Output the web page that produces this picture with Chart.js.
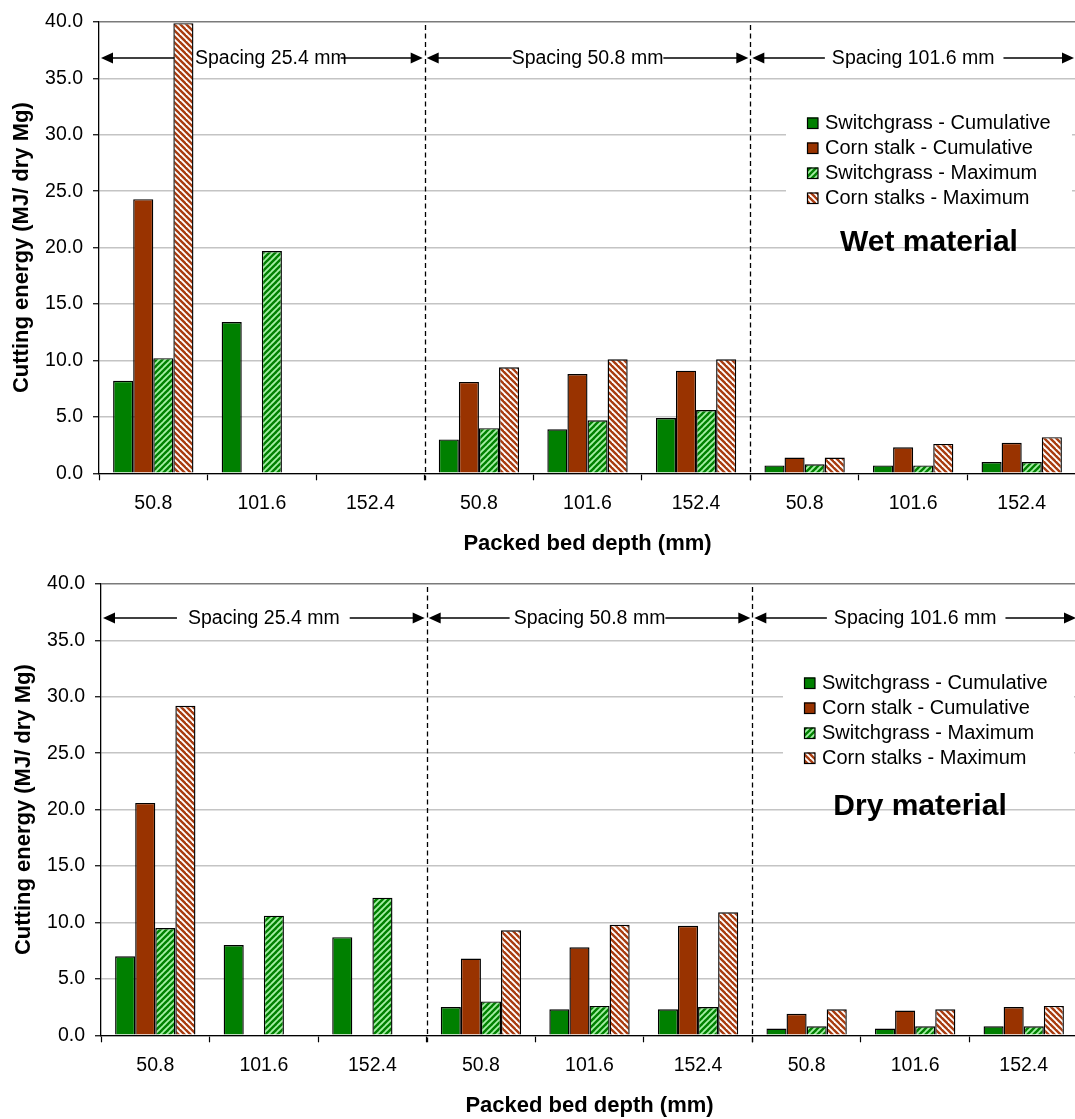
<!DOCTYPE html>
<html><head><meta charset="utf-8">
<script src="https://cdn.jsdelivr.net/npm/chart.js@4.4.1/dist/chart.umd.min.js"></script>
<style>
html,body{margin:0;padding:0;background:#fff;overflow:hidden;width:1075px;height:1119px;}
#wrap{position:relative;width:1075px;height:1119px;overflow:hidden;background:#fff;}
canvas{position:absolute;left:0;}
</style></head><body>
<div id="wrap">
<canvas id="wet" width="1076" height="562" style="top:0;width:1076px;height:562px"></canvas>
<canvas id="dry" width="1078" height="562" style="top:562px;width:1078px;height:562px"></canvas>
</div>
<script>
// ---------- data ----------
const categories = ['50.8','101.6','152.4','50.8','101.6','152.4','50.8','101.6','152.4'];
const spacingGroup = [0,0,0,1,1,1,2,2,2];
const spacingLabels = ['Spacing 25.4 mm','Spacing 50.8 mm','Spacing 101.6 mm'];
const seriesNames = ['Switchgrass - Cumulative','Corn stalk - Cumulative','Switchgrass - Maximum','Corn stalks - Maximum'];
const yTicks = [0,5,10,15,20,25,30,35,40];

const wetSwitchCum = [8.2, 13.4, null, 3.0, 3.9, 4.9, 0.7, 0.7, 1.0];
const wetCornCum   = [24.3, null, null, 8.1, 8.8, 9.1, 1.4, 2.3, 2.7];
const wetSwitchMax = [10.2, 19.7, null, 4.0, 4.7, 5.6, 0.8, 0.7, 1.0];
const wetCornMax   = [39.9, null, null, 9.4, 10.1, 10.1, 1.4, 2.6, 3.2];

const drySwitchCum = [7.0, 8.0, 8.7, 2.5, 2.3, 2.3, 0.6, 0.6, 0.8];
const dryCornCum   = [20.6, null, null, 6.8, 7.8, 9.7, 1.9, 2.2, 2.5];
const drySwitchMax = [9.5, 10.6, 12.2, 3.0, 2.6, 2.5, 0.8, 0.8, 0.8];
const dryCornMax   = [29.2, null, null, 9.3, 9.8, 10.9, 2.3, 2.3, 2.6];

const xTitle = 'Packed bed depth (mm)';
const yTitle = 'Cutting energy (MJ/ dry Mg)';

// ---------- styles ----------
const FONT = "'Liberation Sans', Arial, sans-serif";
Chart.defaults.font.family = FONT;
Chart.defaults.color = '#000';

function makeHatch(bg, fg, dir, size, lw){
  const c = document.createElement('canvas'); c.width = size; c.height = size;
  const x = c.getContext('2d');
  x.fillStyle = bg; x.fillRect(0,0,size,size);
  x.strokeStyle = fg; x.lineWidth = lw;
  for (let k = -size; k <= size; k += size){
    x.beginPath();
    if (dir === '/') { x.moveTo(k-1, size+1); x.lineTo(k+size+1, -1); }
    else { x.moveTo(k-1, -1); x.lineTo(k+size+1, size+1); }
    x.stroke();
  }
  return document.createElement('canvas').getContext('2d').createPattern(c, 'repeat');
}
const GREEN = '#008000', BROWN = '#993300';
const greenHatch = makeHatch('#a6f0a6', '#008000', '/', 6, 2.4);
const brownHatch = makeHatch('#ffffff', '#a83c10', '\\', 6, 2.4);
const fills = [GREEN, BROWN, greenHatch, brownHatch];

const overlay = {
  id: 'overlay',
  beforeDatasetsDraw(chart, args, o){
    const ctx = chart.ctx, ca = chart.chartArea, xs = chart.scales.x;
    const b = [ca.left];
    for (let i = 1; i < spacingGroup.length; i++){
      if (spacingGroup[i] !== spacingGroup[i-1]) b.push((xs.getPixelForValue(i-1) + xs.getPixelForValue(i))/2);
    }
    b.push(ca.right);
    ctx.save();
    ctx.strokeStyle = '#000'; ctx.lineWidth = 1.3; ctx.setLineDash([5,3.5]);
    for (let i = 1; i < b.length-1; i++){
      const x = Math.round(b[i]) + 0.5;
      ctx.beginPath(); ctx.moveTo(x, ca.top + 3); ctx.lineTo(x, ca.bottom + 7); ctx.stroke();
    }
    ctx.setLineDash([]);
    ctx.font = '19.5px ' + FONT; ctx.textBaseline = 'middle'; ctx.textAlign = 'left';
    ctx.fillStyle = '#000'; ctx.strokeStyle = '#000'; ctx.lineWidth = 1.7;
    const y = o.arrowY;
    for (let s = 0; s < spacingLabels.length; s++){
      const l = b[s] + 2, r = b[s+1] - 2;
      const tw = ctx.measureText(spacingLabels[s]).width;
      const cx = (l + r)/2 + (o.textShift[s] || 0);
      const tl = cx - tw/2, tr = cx + tw/2;
      const g = o.gaps[s];
      ctx.beginPath(); ctx.moveTo(l + 8, y); ctx.lineTo(tl - g[0], y); ctx.stroke();
      ctx.beginPath(); ctx.moveTo(tr + g[1], y); ctx.lineTo(r - 8, y); ctx.stroke();
      ctx.beginPath(); ctx.moveTo(l, y); ctx.lineTo(l + 12, y - 5.5); ctx.lineTo(l + 12, y + 5.5); ctx.closePath(); ctx.fill();
      ctx.beginPath(); ctx.moveTo(r, y); ctx.lineTo(r - 12, y - 5.5); ctx.lineTo(r - 12, y + 5.5); ctx.closePath(); ctx.fill();
      ctx.fillText(spacingLabels[s], tl, y + 1);
    }
    ctx.restore();
  },
  afterDatasetsDraw(chart, args, o){
    const ctx = chart.ctx;
    ctx.save();
    ctx.fillStyle = '#fff';
    ctx.fillRect(o.legBox[0], o.legBox[1], o.legBox[2], o.legBox[3]);
    ctx.font = '20px ' + FONT; ctx.textBaseline = 'middle'; ctx.textAlign = 'left';
    chart.data.datasets.forEach((ds, i) => {
      const yy = o.legY + i * 25;
      ctx.fillStyle = ds.backgroundColor;
      ctx.fillRect(o.legX, yy - 5.5, 11, 11);
      ctx.strokeStyle = '#000'; ctx.lineWidth = 1.2;
      ctx.strokeRect(o.legX + 0.5, yy - 5.5 + 0.5, 10.5, 10.5);
      ctx.fillStyle = '#000';
      ctx.fillText(ds.label, o.legX + 18, yy);
    });
    ctx.font = 'bold 30px ' + FONT; ctx.textAlign = 'center';
    ctx.fillText(o.material, o.matX, o.matY);
    ctx.restore();
  }
};

function build(id, data, opts){
  const datasets = data.map((arr, i) => ({
    label: seriesNames[i], data: arr, backgroundColor: fills[i],
    borderColor: '#000', borderWidth: 1.4, borderSkipped: 'bottom',
    categoryPercentage: 0.74, barPercentage: 1.0
  }));
  return new Chart(document.getElementById(id), {
    type: 'bar',
    data: { labels: categories, datasets },
    plugins: [overlay],
    options: {
      responsive: false, animation: false, devicePixelRatio: 1,
      layout: { padding: { left: opts.padLeft, top: 22, right: 0, bottom: 0 } },
      plugins: { legend: { display: false }, tooltip: { enabled: false }, overlay: opts.overlay },
      scales: {
        x: {
          grid: { drawOnChartArea: false, drawTicks: true, tickLength: 7, tickColor: '#000', tickWidth: 1.2, offset: true },
          border: { display: true, color: '#000', width: 1.3 },
          ticks: { font: { size: 19.5 }, color: '#000', padding: 12, maxRotation: 0, autoSkip: false },
          title: { display: true, text: xTitle, font: { size: 22, weight: 'bold' }, color: '#000', padding: { top: 0, bottom: 5 } },
          afterFit: s => { s.height = 88.7; }
        },
        y: {
          min: 0, max: 40,
          afterBuildTicks: s => { s.ticks = yTicks.map(v => ({ value: v })); },
          grid: { color: c => (c.tick && c.tick.value === 40) ? '#7a7a7a' : '#c4c4c4', lineWidth: 1.5,
                  drawTicks: true, tickLength: 6, tickColor: '#000', tickWidth: 1.2 },
          border: { display: true, color: '#000', width: 1.3 },
          ticks: { font: { size: 19.5 }, color: '#000', padding: 10, callback: v => Number(v).toFixed(1) },
          title: { display: true, text: yTitle, font: { size: 22, weight: 'bold' }, color: '#000', padding: { top: 9, bottom: 0 } },
          afterFit: s => { s.width = 99; }
        }
      }
    }
  });
}

build('wet', [wetSwitchCum, wetCornCum, wetSwitchMax, wetCornMax], {
  padLeft: 0,
  overlay: { arrowY: 58, textShift: [9, 0, 0], gaps: [[17, -6], [0, 0], [7, 9]],
             legBox: [786, 100, 286, 112], legX: 807, legY: 123,
             material: 'Wet material', matX: 929, matY: 243 }
});
build('dry', [drySwitchCum, dryCornCum, drySwitchMax, dryCornMax], {
  padLeft: 2,
  overlay: { arrowY: 56, textShift: [0, 0, 0], gaps: [[11, 10], [4, 0], [7, 9]],
             legBox: [783, 100, 291, 112], legX: 804, legY: 121,
             material: 'Dry material', matX: 920, matY: 245 }
});
</script>
</body></html>
